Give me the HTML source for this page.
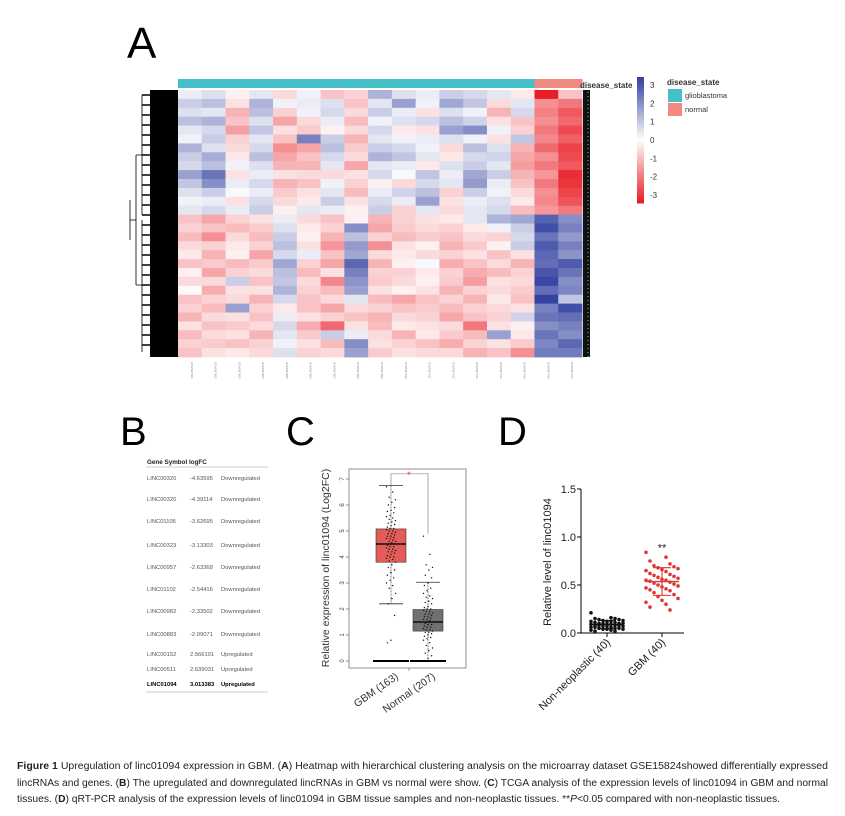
<!DOCTYPE html>
<html><head><meta charset="utf-8"><style>
html,body{margin:0;padding:0;background:#fff;}
svg{display:block;font-family:"Liberation Sans",Arial,sans-serif;}
</style></head><body>
<svg id="fig" width="845" height="816" viewBox="0 0 845 816" xmlns="http://www.w3.org/2000/svg">
<rect width="845" height="816" fill="#fff"/>
<text x="127" y="58" font-size="44">A</text>
<text x="120" y="445" font-size="40">B</text>
<text x="286" y="445" font-size="40">C</text>
<text x="498" y="445" font-size="40">D</text>
<g id="heat"></g>
<g id="tbl"></g>
<g id="boxp"></g>
<g id="dotp"></g>
<g font-family="'Liberation Sans Narrow','Liberation Sans',sans-serif" font-size="10" fill="#222">
<text x="17" y="769" textLength="811" lengthAdjust="spacingAndGlyphs"><tspan font-weight="bold">Figure 1</tspan> Upregulation of linc01094 expression in GBM. (<tspan font-weight="bold">A</tspan>) Heatmap with hierarchical clustering analysis on the microarray dataset GSE15824showed differentially expressed</text>
<text x="17" y="786" textLength="811" lengthAdjust="spacingAndGlyphs">lincRNAs and genes. (<tspan font-weight="bold">B</tspan>) The upregulated and downregulated lincRNAs in GBM vs normal were show. (<tspan font-weight="bold">C</tspan>) TCGA analysis of the expression levels of linc01094 in GBM and normal</text>
<text x="17" y="802" textLength="763" lengthAdjust="spacingAndGlyphs">tissues. (<tspan font-weight="bold">D</tspan>) qRT-PCR analysis of the expression levels of linc01094 in GBM tissue samples and non-neoplastic tissues. **<tspan font-style="italic">P</tspan>&lt;0.05 compared with non-neoplastic tissues.</text>
</g>
</svg>
<script>
const NS="http://www.w3.org/2000/svg";
function mk(p,tag,a){const e=document.createElementNS(NS,tag);for(const k in a)e.setAttribute(k,a[k]);p.appendChild(e);return e;}

// ===== Heatmap data =====
const heatSamples=["GSM397601","GSM397602","GSM397603","GSM397604","GSM397605","GSM397606","GSM397607","GSM397608","GSM397609","GSM397610","GSM397611","GSM397612","GSM397613","GSM397614","GSM397615","GSM397616","GSM397617"];
const heatGroups=["glioblastoma","glioblastoma","glioblastoma","glioblastoma","glioblastoma","glioblastoma","glioblastoma","glioblastoma","glioblastoma","glioblastoma","glioblastoma","glioblastoma","glioblastoma","glioblastoma","glioblastoma","normal","normal"];
const heatValues=[
[0.3,0.5,-0.2,0.4,-0.5,0.2,-0.8,-0.6,1.2,0.5,0.3,0.8,0.6,0.4,-0.3,-3,-0.8],
[0.8,1.0,-0.4,1.2,0.2,0.3,0.5,-0.8,0.4,1.5,0.2,1.4,0.9,-0.5,0.4,-1.5,-1.8],
[0.5,0.4,-1.0,1.0,-0.6,0.2,0.6,-0.5,0.8,0.3,-0.4,0.5,0.2,-1.0,0.6,-1.7,-2.2],
[1.0,1.2,-0.8,0.5,-1.2,-0.5,0.3,-0.9,0.2,0.5,0.6,1.0,0.7,-0.4,-0.8,-1.5,-2.0],
[0.4,0.6,-1.3,0.9,-0.4,-0.7,-0.2,-0.5,0.6,-0.3,-0.4,1.5,1.8,0.2,-0.6,-1.8,-2.4],
[0.2,0.8,-0.6,0.4,-0.8,2.0,0.8,-1.0,0.4,0.2,0.3,0.5,0.2,-0.4,0.9,-1.6,-2.1],
[1.2,0.5,-0.5,0.6,-1.5,-1.2,1.0,-0.7,0.8,0.6,0.2,-0.5,1.0,0.5,-1.0,-2.0,-2.5],
[0.8,1.3,-0.3,1.0,-1.2,-0.8,0.6,-0.5,1.2,0.9,0.4,-0.3,0.6,0.7,-1.2,-1.5,-2.4],
[0.6,1.0,0.2,0.5,-1.0,-1.0,0.4,-1.2,0.4,0.3,-0.3,0.5,0.8,0.4,-1.3,-1.8,-2.2],
[1.5,2.2,-0.4,0.3,-0.4,-0.5,-0.5,-0.4,0.6,0.1,0.9,0.3,1.4,0.8,-1.0,-1.4,-2.8],
[0.9,1.8,0.3,0.6,-1.0,-0.8,0.2,-0.6,-0.2,-0.5,0.6,0.4,1.6,0.3,-0.8,-1.8,-2.7],
[0.5,0.8,0.1,0.3,-0.7,-0.4,0.4,-0.9,0.3,0.7,1.0,-0.6,0.8,0.2,-0.5,-1.5,-2.5],
[0.2,0.3,-0.4,0.6,-0.5,-0.3,0.8,-0.4,0.6,0.3,1.5,-0.4,0.3,0.5,-0.3,-1.6,-2.3],
[0.4,0.6,0.3,0.8,-0.2,0.4,0.3,-0.2,0.8,-0.6,0.4,-0.5,0.4,0.6,-0.9,-1.4,-1.8],
[-0.8,-1.2,-0.6,-0.4,0.3,-0.5,-0.8,-0.2,-1.0,-0.6,-0.4,-0.3,0.4,1.2,1.4,2.5,1.8],
[-0.6,-0.8,-0.9,-0.7,0.5,-0.3,-0.6,1.8,-1.2,-0.7,-0.5,-0.6,-0.3,0.2,0.8,2.8,2.0],
[-0.9,-1.5,-0.5,-0.9,0.8,-0.2,-1.0,1.0,-0.6,-0.9,-0.7,-0.8,-0.5,-0.6,0.6,2.2,1.6],
[-0.5,-0.6,-0.3,-0.6,1.0,-0.4,-1.4,1.6,-1.5,-0.4,-0.2,-1.0,-0.7,-0.2,0.8,2.6,2.0],
[-0.3,-1.0,-0.2,-1.2,0.6,0.3,-0.8,1.4,-0.5,-0.3,-0.5,-0.6,-0.4,-0.8,-0.4,2.4,1.7],
[-0.8,-0.7,-0.9,-0.7,1.4,-0.6,-1.2,2.4,-1.0,-0.2,0.1,-1.1,-0.8,-0.5,-1.0,2.3,2.6],
[-0.2,-1.2,-0.6,-0.5,1.0,-0.9,-0.4,2.0,-0.6,-0.6,-0.3,-0.6,-1.1,-0.9,-0.6,2.7,2.2],
[-0.5,-0.5,0.8,-0.8,0.9,-0.5,-1.6,1.7,-0.7,-0.5,-0.2,-0.7,-1.3,-0.4,-0.5,2.9,1.8],
[-0.1,-1.1,-0.4,-0.4,1.2,-0.6,-0.9,1.5,-0.4,-0.2,-0.4,-1.0,-0.6,-0.5,-0.7,2.3,1.9],
[-0.8,-0.6,-0.5,-1.0,0.6,-0.8,-0.5,0.4,-0.9,-1.2,-0.8,-0.6,-1.0,-0.3,-0.8,3.0,0.9],
[-0.6,-0.9,1.5,-0.6,-0.3,-0.8,-1.2,-0.5,-0.6,-0.8,-0.7,-0.9,-0.6,-0.5,-0.4,2.0,2.8],
[-1.0,-0.5,-0.4,-0.8,0.3,-0.4,-0.6,-0.8,-1.0,-0.5,-0.6,-1.2,-0.8,-0.6,0.7,2.2,2.3],
[-0.4,-0.8,-0.7,-0.5,0.6,-1.1,-2.0,-0.4,-0.9,-0.3,-0.4,-0.5,-1.8,-0.4,-0.2,1.8,2.0],
[-0.9,-0.5,-0.4,-1.0,0.4,-0.7,0.8,0.3,-0.5,-1.0,-0.3,-0.7,-0.9,1.5,-0.3,2.2,1.8],
[-0.6,-0.7,-0.8,-0.6,0.2,-0.4,-0.9,1.8,-0.4,-0.6,-0.8,-1.1,-0.6,-0.4,-0.7,1.9,2.4],
[-0.8,-0.4,-0.3,-0.5,0.5,-0.6,-0.5,1.5,-0.7,-0.4,-0.5,-0.5,-1.0,-0.8,-1.5,2.1,2.1]];
const heatTicks=[3,2,1,0,-1,-2,-3];

// ===== Table data =====
const tblGenes=["LINC00320","LINC00320","LINC01105","LINC00323","LINC00957","LINC01102","LINC00982","LINC00883","LINC00152","LINC00511","LINC01094"];
const tblLogFC=["-4.63595","-4.39114","-3.62695","-3.13303","-2.63368","-2.54416","-2.33502","-2.09071","2.566101","2.639031","3.013383"];
const tblReg=["Downregulated","Downregulated","Downregulated","Downregulated","Downregulated","Downregulated","Downregulated","Downregulated","Upregulated","Upregulated","Upregulated"];
const tblRowY=[478,499,521,545,567,589,611,634,654,669,684];

// ===== Box plot data (panel C) =====
const boxCats=["GBM (163)","Normal (207)"];
const boxQ1=[3.8,1.15], boxMed=[4.5,1.5], boxQ3=[5.08,1.98], boxWlo=[2.2,0.02], boxWhi=[6.75,3.03];
const boxTicks=[0,1,2,3,4,5,6,7];
const gbmPts=[6.7,6.5,6.3,6.2,6.1,6.0,5.9,5.8,5.75,5.7,5.6,5.55,5.5,5.45,5.4,5.35,5.3,5.25,5.2,5.15,5.1,5.1,5.05,5.0,5.0,4.95,4.9,4.9,4.85,4.8,4.8,4.75,4.7,4.7,4.65,4.6,4.6,4.55,4.5,4.5,4.5,4.45,4.4,4.4,4.35,4.3,4.3,4.25,4.2,4.2,4.15,4.1,4.05,4.0,4.0,3.95,3.9,3.85,3.8,3.7,3.6,3.5,3.4,3.3,3.2,3.1,3.0,2.9,2.8,2.6,2.4,2.2,1.75,0.8,0.7];
const normPts=[4.8,4.1,3.7,3.6,3.5,3.3,3.2,3.0,2.9,2.8,2.7,2.6,2.5,2.45,2.4,2.3,2.25,2.2,2.1,2.05,2.0,2.0,1.95,1.9,1.9,1.85,1.8,1.8,1.75,1.7,1.7,1.65,1.6,1.6,1.55,1.5,1.5,1.5,1.45,1.4,1.4,1.35,1.3,1.3,1.25,1.2,1.2,1.15,1.1,1.1,1.05,1.0,0.95,0.9,0.85,0.8,0.7,0.6,0.5,0.4,0.3,0.2,0.1];

// ===== Dot plot data (panel D) =====
const dotCats=["Non-neoplastic (40)","GBM (40)"];
const dotTicks=[0.0,0.5,1.0,1.5];
const nonNeo=[0.21,0.16,0.15,0.15,0.14,0.14,0.13,0.13,0.12,0.12,0.12,0.11,0.11,0.10,0.10,0.10,0.10,0.09,0.09,0.09,0.08,0.08,0.08,0.08,0.07,0.07,0.07,0.06,0.06,0.06,0.05,0.05,0.05,0.04,0.04,0.04,0.03,0.03,0.02,0.02];
const gbmRel=[0.84,0.79,0.75,0.72,0.70,0.69,0.68,0.67,0.66,0.65,0.64,0.62,0.61,0.60,0.59,0.58,0.57,0.56,0.55,0.55,0.54,0.53,0.52,0.51,0.50,0.49,0.48,0.47,0.46,0.45,0.44,0.42,0.40,0.38,0.36,0.34,0.32,0.30,0.27,0.24];

// ---------- draw heatmap ----------
(function(){
const g=document.getElementById('heat');
const X0=178,X1=582,Y0=90,Y1=357;
const nc=heatSamples.length,nr=heatValues.length,cw=(X1-X0)/nc,rh=(Y1-Y0)/nr;
function col(v){v=Math.max(-3,Math.min(3,v));let t=Math.abs(v)/3;
 const tgt=v>=0?[52,66,160]:[232,30,38];
 const r=Math.round(255+(tgt[0]-255)*t),gg=Math.round(255+(tgt[1]-255)*t),b=Math.round(255+(tgt[2]-255)*t);
 return `rgb(${r},${gg},${b})`;}
heatGroups.forEach((gr,i)=>{const r=mk(g,'rect',{x:X0+i*cw,y:79,width:cw+0.5,height:9,fill:gr==='normal'?'#f08a80':'#45c0c8'});

});
heatValues.forEach((row,ri)=>row.forEach((v,ci)=>{
 const r=mk(g,'rect',{x:X0+ci*cw,y:Y0+ri*rh,width:cw+0.4,height:rh+0.4,fill:col(v)});
 
 }));
heatSamples.forEach((s,i)=>{const t=mk(g,'text',{x:0,y:0,'font-size':3,fill:'#888',transform:`translate(${X0+i*cw+cw/2+1},362) rotate(90)`});t.textContent=s;

});
const d=mk(g,'g',{});
mk(d,'rect',{x:150,y:Y0,width:28,height:Y1-Y0,fill:'#000'});
for(let i=0;i<26;i++){const y=Y0+5+i*10;mk(d,'line',{x1:142,y1:y,x2:150,y2:y,stroke:'#000','stroke-width':1.5});}
mk(d,'path',{d:`M142 95 V215 M142 220 V352 M142 155 H136 M142 285 H136 M136 155 V285 M136 220 H130 M130 200 V240`,stroke:'#000',fill:'none','stroke-width':0.8});
mk(g,'rect',{x:583,y:Y0,width:7,height:Y1-Y0,fill:'#111'});
for(let y=Y0+2;y<Y1;y+=4)mk(g,'rect',{x:587,y:y,width:2,height:1,fill:'#2a7a5a'});
let t=mk(g,'text',{x:580,y:88,'font-size':8,'font-weight':'bold',fill:'#333'});t.textContent='disease_state';

const lg=mk(g,'g',{});
const LY0=77,LY1=203;
for(let i=0;i<60;i++){const v=3-6*i/59;mk(lg,'rect',{x:637,y:LY0+i*(LY1-LY0)/60,width:7,height:(LY1-LY0)/60+0.5,fill:col(v)});}
heatTicks.forEach(v=>{const y=LY0+8+(3-v)/6*(LY1-LY0-16);const tt=mk(lg,'text',{x:650,y:y+3,'font-size':8,fill:'#333'});tt.textContent=v;});
const dl=mk(g,'g',{});
t=mk(dl,'text',{x:667,y:85,'font-size':8,'font-weight':'bold',fill:'#333'});t.textContent='disease_state';
mk(dl,'rect',{x:668,y:89,width:14,height:13,fill:'#45c0c8'});
mk(dl,'rect',{x:668,y:103,width:14,height:13,fill:'#f08a80'});
t=mk(dl,'text',{x:685,y:98,'font-size':7.5,fill:'#333'});t.textContent='glioblastoma';
t=mk(dl,'text',{x:685,y:112,'font-size':7.5,fill:'#333'});t.textContent='normal';
})();

// ---------- table ----------
(function(){
const g=document.getElementById('tbl');
let t=mk(g,'text',{x:147,y:464,'font-size':6.3,'font-weight':'bold',fill:'#222'});t.textContent='Gene Symbol logFC';
mk(g,'line',{x1:146,y1:467,x2:268,y2:467,stroke:'#ccc','stroke-width':1});
mk(g,'line',{x1:146,y1:692,x2:268,y2:692,stroke:'#ccc','stroke-width':1});
tblGenes.forEach((gn,i)=>{const y=tblRowY[i]+2;const b=i===tblGenes.length-1;
 const row=mk(g,'g',{'font-size':5.8,fill:b?'#000':'#555','font-weight':b?'bold':'normal'});
 
 
 mk(row,'text',{x:147,y:y}).textContent=gn;
 mk(row,'text',{x:190,y:y}).textContent=tblLogFC[i];
 mk(row,'text',{x:221,y:y}).textContent=tblReg[i];});
})();

// ---------- box plot ----------
(function(){
const g=document.getElementById('boxp');
const L=349,R=466,T=469,B=668;
const ys=v=>661-v*26;
const cx=[391,428];
mk(g,'rect',{x:L,y:T,width:R-L,height:B-T,fill:'none',stroke:'#777','stroke-width':0.8});
boxTicks.forEach(v=>{mk(g,'line',{x1:L-3,y1:ys(v),x2:L,y2:ys(v),stroke:'#555','stroke-width':0.6});
 const t=mk(g,'text',{x:0,y:0,'font-size':6,fill:'#444','text-anchor':'middle',transform:`translate(${L-5},${ys(v)}) rotate(-90)`});t.textContent=v;
 });
let t=mk(g,'text',{x:0,y:0,'font-size':10.5,fill:'#333','text-anchor':'middle',transform:`translate(329,568) rotate(-90)`});t.textContent='Relative expression of linc01094 (Log2FC)';

const fills=['#e35c5a','#707070'];
[gbmPts,normPts].forEach((pts,k)=>{
 const x=cx[k];
 mk(g,'line',{x1:x-12,y1:ys(boxWhi[k]),x2:x+12,y2:ys(boxWhi[k]),stroke:'#333','stroke-width':0.8});
 mk(g,'line',{x1:x-12,y1:ys(boxWlo[k]),x2:x+12,y2:ys(boxWlo[k]),stroke:'#333','stroke-width':0.8});
 mk(g,'line',{x1:x,y1:ys(boxWhi[k]),x2:x,y2:ys(boxWlo[k]),stroke:'#333','stroke-width':0.6,'stroke-dasharray':'2,1'});
 const r=mk(g,'rect',{x:x-15,y:ys(boxQ3[k]),width:30,height:ys(boxQ1[k])-ys(boxQ3[k]),fill:fills[k],stroke:'#333','stroke-width':0.6});
 
 mk(g,'line',{x1:x-15,y1:ys(boxMed[k]),x2:x+15,y2:ys(boxMed[k]),stroke:'#111','stroke-width':1.5});
 pts.forEach((v,i)=>{const c=mk(g,'circle',{cx:x+((i*7)%11-5)*0.9,cy:ys(v),r:0.7,fill:'#111'});
  });
 mk(g,'line',{x1:x-18,y1:ys(0),x2:x+18,y2:ys(0),stroke:'#000','stroke-width':2});
 const lt=mk(g,'text',{x:0,y:0,'font-size':10.5,fill:'#333','text-anchor':'end',transform:`translate(${x+8},${B+10}) rotate(-35)`});lt.textContent=boxCats[k];
 
});
mk(g,'line',{x1:409,y1:B,x2:409,y2:B+3,stroke:'#555','stroke-width':0.6});
mk(g,'path',{d:`M${cx[0]} ${ys(6.75)} V${ys(7.2)} H${cx[1]} V${ys(4.9)}`,fill:'none',stroke:'#888','stroke-width':0.7});
t=mk(g,'text',{x:409,y:ys(7.2)+4,'font-size':9,fill:'#e33','text-anchor':'middle'});t.textContent='*';
})();

// ---------- dot plot ----------
(function(){
const g=document.getElementById('dotp');
const X0=581,X1=684;
const ys=v=>633-v*96;
const cx=[607,662];
mk(g,'line',{x1:X0,y1:ys(1.5),x2:X0,y2:ys(0),stroke:'#000','stroke-width':1});
mk(g,'line',{x1:X0,y1:ys(0),x2:X1,y2:ys(0),stroke:'#000','stroke-width':1});
dotTicks.forEach(v=>{mk(g,'line',{x1:X0-4,y1:ys(v),x2:X0,y2:ys(v),stroke:'#000'});
 const t=mk(g,'text',{x:X0-5,y:ys(v)+4,'font-size':11,fill:'#222','text-anchor':'end'});t.textContent=v.toFixed(1);
 });
let t=mk(g,'text',{x:0,y:0,'font-size':11,fill:'#222','text-anchor':'middle',transform:`translate(551,562) rotate(-90)`});t.textContent='Relative level of linc01094';

const cols=['#111','#e03535'];
[nonNeo,gbmRel].forEach((arr,k)=>{
 const x=cx[k];
 mk(g,'line',{x1:x,y1:ys(0),x2:x,y2:ys(0)+4,stroke:'#000'});
 arr.forEach((v,i)=>{const c=mk(g,'circle',{cx:x+((i*5)%9-4)*4,cy:ys(v),r:1.8,fill:cols[k]});
  });
 const m=arr.reduce((a,b)=>a+b,0)/arr.length;
 const sd=Math.sqrt(arr.reduce((a,b)=>a+(b-m)*(b-m),0)/(arr.length-1));
 mk(g,'line',{x1:x-17,y1:ys(m),x2:x+17,y2:ys(m),stroke:cols[k],'stroke-width':1.3});
 mk(g,'line',{x1:x,y1:ys(m+sd),x2:x,y2:ys(Math.max(0,m-sd)),stroke:cols[k],'stroke-width':1.1});
 mk(g,'line',{x1:x-9,y1:ys(m+sd),x2:x+9,y2:ys(m+sd),stroke:cols[k],'stroke-width':1.1});
 mk(g,'line',{x1:x-9,y1:ys(Math.max(0,m-sd)),x2:x+9,y2:ys(Math.max(0,m-sd)),stroke:cols[k],'stroke-width':1.1});
 const lt=mk(g,'text',{x:0,y:0,'font-size':11,fill:'#222','text-anchor':'end',transform:`translate(${x+4},${ys(0)+10}) rotate(-45)`});lt.textContent=dotCats[k];
 
});
t=mk(g,'text',{x:cx[1],y:ys(0.89)+4,'font-size':11,fill:'#222','text-anchor':'middle'});t.textContent='**';

})();
</script>
</body></html>
